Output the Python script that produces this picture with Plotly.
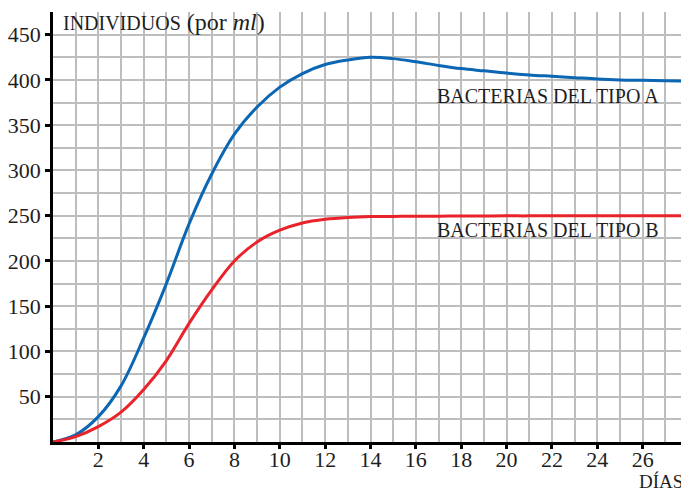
import plotly.graph_objects as go

days = list(range(0, 29))
bact_a = [0, 8, 28, 62, 115, 175, 241, 296, 340, 370, 392, 407, 417, 422, 425, 423.5, 420,
          416, 412.5, 410, 407.5, 405.5, 404, 402.5, 401, 400, 399.5, 399, 398.5]
bact_b = [0, 6, 17, 33, 58, 90, 131, 168, 200, 221, 234, 242, 246, 248, 249, 249.2, 249.4,
          249.5, 249.6, 249.7, 249.8, 249.8, 249.9, 249.9, 250, 250, 250, 250, 250]

x_ticks = list(range(2, 27, 2))
y_ticks = list(range(50, 451, 50))

FONT = "Liberation Serif"
BLUE = "#0b66b3"
RED = "#ea2229"
TXT = "#1e1e1e"

fig = go.Figure()
fig.add_trace(go.Scatter(x=days, y=bact_a, mode="lines",
                         line=dict(color=BLUE, width=3, shape="spline", smoothing=1.0),
                         hoverinfo="skip", showlegend=False))
fig.add_trace(go.Scatter(x=days, y=bact_b, mode="lines",
                         line=dict(color=RED, width=3, shape="spline", smoothing=1.0),
                         hoverinfo="skip", showlegend=False))

grid = "#bdbdbd"
fig.update_xaxes(range=[0, 28], tickvals=x_ticks, ticktext=[str(v) for v in x_ticks],
                 showgrid=True, gridcolor=grid, gridwidth=1.5,
                 minor=dict(dtick=1, tick0=0, showgrid=True, gridcolor=grid, gridwidth=1.5),
                 showline=True, linecolor="black", linewidth=2.5,
                 ticks="outside", ticklen=4, tickwidth=2.5, tickcolor="black",
                 ticklabelstandoff=-8,
                 tickfont=dict(family=FONT, size=22, color=TXT),
                 zeroline=False, fixedrange=True, automargin=False)
fig.update_yaxes(range=[0, 475], tickvals=y_ticks, ticktext=[str(v) for v in y_ticks],
                 showgrid=True, gridcolor=grid, gridwidth=1.5,
                 minor=dict(dtick=25, tick0=0, showgrid=True, gridcolor=grid, gridwidth=1.5),
                 showline=True, linecolor="black", linewidth=2.5,
                 ticks="outside", ticklen=5, tickwidth=2.5, tickcolor="black",
                 tickfont=dict(family=FONT, size=22, color=TXT),
                 zeroline=False, fixedrange=True, automargin=False)

fig.add_annotation(x=0.35, y=464, xref="x", yref="y", xanchor="left", yanchor="middle",
                   text="<span style='font-size:20px'>INDIVIDUOS</span> (por <i>ml</i>)",
                   showarrow=False, font=dict(family=FONT, size=24, color=TXT))
fig.add_annotation(x=16.85, y=382, xref="x", yref="y", xanchor="left", yanchor="middle",
                   text="BACTERIAS DEL TIPO A", showarrow=False,
                   font=dict(family=FONT, size=20, color=TXT))
fig.add_annotation(x=16.85, y=234, xref="x", yref="y", xanchor="left", yanchor="middle",
                   text="BACTERIAS DEL TIPO B", showarrow=False,
                   font=dict(family=FONT, size=20, color=TXT))
fig.add_annotation(x=25.75, y=-0.091, xref="x", yref="paper", xanchor="left", yanchor="middle",
                   text="DÍAS", showarrow=False,
                   font=dict(family=FONT, size=19, color=TXT))

# page body has an 8px margin, so the figure is sized/offset to land the plot area
# at the reference's position in the 689x488 window
fig.update_layout(width=681, height=480, margin=dict(l=45, r=1, t=4, b=46),
                  plot_bgcolor="white", paper_bgcolor="white")

fig.write_html("out.html", config={"displayModeBar": False})
